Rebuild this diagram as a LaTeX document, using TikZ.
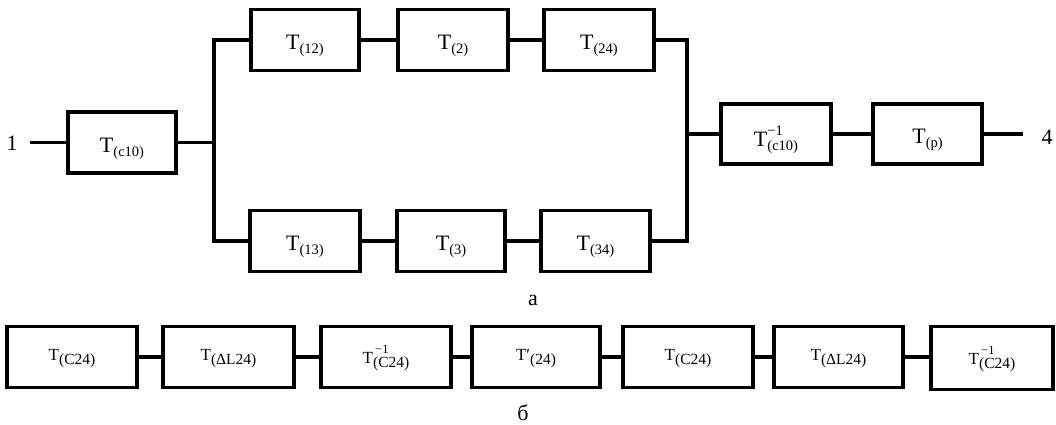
\documentclass[tikz,border=0pt]{standalone}
\usepackage{fontspec}
\setmainfont{Liberation Serif}
% T with a lowered index, upper diagram
\newcommand\Tix[1]{T\raisebox{-4pt}{\fontsize{14.5}{14.5}\selectfont #1}}
% T with inverse mark and lowered index, upper diagram
\newcommand\Tinv[1]{T\rlap{\raisebox{11pt}{\fontsize{14.5}{14.5}\selectfont −1}}\raisebox{-4pt}{\fontsize{14.5}{14.5}\selectfont #1}}
% the same pair for the lower chain
\newcommand\Sx[1]{T\raisebox{-4pt}{\fontsize{15.5}{15.5}\selectfont #1}}
\newcommand\Sinv[1]{T\rlap{\raisebox{10.5pt}{\fontsize{12.5}{12.5}\selectfont \,−1}}\raisebox{-4pt}{\fontsize{15.5}{15.5}\selectfont #1}}
\begin{document}
\begin{tikzpicture}[x=1pt,y=-1pt,
  blk/.style={draw, line width=3.2pt, inner sep=0pt, outer sep=0pt, minimum width=108pt, minimum height=61pt},
  wide/.style={blk, minimum width=130pt},
  wire/.style={line width=3.2pt, line join=miter},
  lbl/.style={inner sep=0pt, font=\fontsize{22}{22}\selectfont},
  slbl/.style={inner sep=0pt, font=\fontsize{17}{17}\selectfont}]
\useasboundingbox (0,0) rectangle (1056,425);

% upper diagram: blocks
\node[blk] (c10) at (122,142.5) {};
\node[blk] (t12) at (305,40) {};
\node[blk, minimum width=110pt] (t2) at (453,40) {};
\node[blk, minimum width=110pt] (t24) at (599,40) {};
\node[blk, minimum width=110pt] (t13) at (305,241) {};
\node[blk] (t3) at (451,241) {};
\node[blk, minimum width=109pt] (t34) at (595.5,241) {};
\node[blk, minimum width=110pt, minimum height=60pt] (ci) at (776,134) {};
\node[blk, minimum width=109pt, minimum height=60pt] (tp) at (927.5,134) {};

% upper diagram: block texts
\node[lbl] (c10l) at ([yshift=-6pt]c10.center) {\Tix{(c10)}};
\node[lbl] (t12l) at ([yshift=-6pt]t12.center) {\Tix{(12)}};
\node[lbl] (t2l) at ([yshift=-6pt]t2.center) {\Tix{(2)}};
\node[lbl] (t24l) at ([yshift=-6pt]t24.center) {\Tix{(24)}};
\node[lbl] (t13l) at ([yshift=-6pt]t13.center) {\Tix{(13)}};
\node[lbl] (t3l) at ([yshift=-6pt]t3.center) {\Tix{(3)}};
\node[lbl] (t34l) at ([yshift=-6pt]t34.center) {\Tix{(34)}};
\node[lbl] (cil) at ([yshift=-6pt]ci.center) {\Tinv{(c10)}};
\node[lbl] (tpl) at ([yshift=-6pt]tp.center) {\Tix{(p)}};

% terminals and caption
\node[lbl] (n1) at (12,143) {1};
\node[lbl] (n4) at (1047,137) {4};
\coordinate (in) at (30,142.5);
\coordinate (out) at (1023,134);
\coordinate (lmid) at (214,142.5);
\coordinate (lbot) at (214,241);
\coordinate (rmid) at (687,134);
\coordinate (rbot) at (687,241);
\node[lbl] (capa) at (533,300) {а};

% upper diagram: connections
\draw[wire] (in) -- (c10);
\draw[wire] (c10) -- (lmid);
\draw[wire] (t12.west) -| (lbot) -- (t13.west);
\draw[wire] (t12) -- (t2);
\draw[wire] (t2) -- (t24);
\draw[wire] (t13) -- (t3);
\draw[wire] (t3) -- (t34);
\draw[wire] (t24.east) -| (rbot) -- (t34.east);
\draw[wire] (rmid) -- (ci);
\draw[wire] (ci) -- (tp);
\draw[wire] (tp) -- (out);

% lower chain
\node[wide] (b1) at (72,357) {};
\node[wide, minimum width=131pt] (b2) at (228.5,357) {};
\node[wide] (b3) at (386,357) {};
\node[wide, minimum width=128pt] (b4) at (536,357) {};
\node[wide] (b5) at (688,357) {};
\node[wide, minimum width=129pt] (b6) at (838.5,357) {};
\node[wide, minimum width=122pt, minimum height=63pt] (b7) at (992,358) {};

\node[slbl] (b1l) at ([yshift=-2pt]b1.center) {\Sx{(C24)}};
\node[slbl] (b2l) at ([yshift=-2pt]b2.center) {\Sx{(ΔL24)}};
\node[slbl] (b3l) at ([yshift=-1pt]b3.center) {\Sinv{(C24)}};
\node[slbl] (b4l) at ([yshift=-2pt]b4.center) {T′\raisebox{-4pt}{\fontsize{15.5}{15.5}\selectfont (24)}};
\node[slbl] (b5l) at ([yshift=-2pt]b5.center) {\Sx{(C24)}};
\node[slbl] (b6l) at ([yshift=-2pt]b6.center) {\Sx{(ΔL24)}};
\node[slbl] (b7l) at ([yshift=-1pt]b7.center) {\Sinv{(C24)}};

\draw[wire] (b1) -- (b2);
\draw[wire] (b2) -- (b3);
\draw[wire] (b3) -- (b4);
\draw[wire] (b4) -- (b5);
\draw[wire] (b5) -- (b6);
\draw[wire] (b6) -- (b7.west |- b6.east);

\node[lbl] (capb) at (523,413) {б};
\end{tikzpicture}
\end{document}
